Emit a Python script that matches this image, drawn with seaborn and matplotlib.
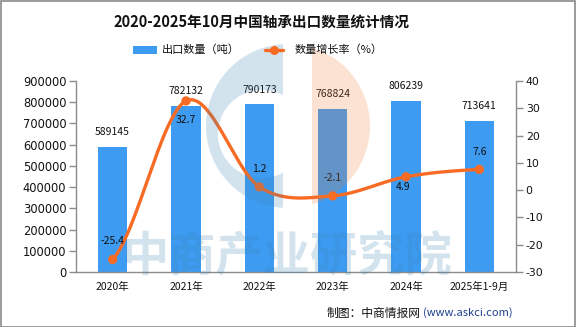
import numpy as np
import pandas as pd
import matplotlib
matplotlib.use("Agg")
import matplotlib.pyplot as plt
import seaborn as sns
from matplotlib.patches import Rectangle, PathPatch, Circle
from matplotlib.path import Path

# ---- data ----
years = ["2020年", "2021年", "2022年", "2023年", "2024年", "2025年1-9月"]
export_qty = [589145, 782132, 790173, 768824, 806239, 713641]
growth = [-25.4, 32.7, 1.2, -2.1, 4.9, 7.6]
left_ticks = [0, 100000, 200000, 300000, 400000, 500000, 600000, 700000, 800000, 900000]
right_ticks = [-30, -20, -10, 0, 10, 20, 30, 40]

sns.set_theme(style="white")
plt.rcParams['font.family'] = ['Noto Sans CJK SC', 'DejaVu Sans']
plt.rcParams['axes.unicode_minus'] = False

BAR = "#3d9cf2"
LINE = "#f86b25"
GREY = "#8c8c8c"
NUMFONT = ['DejaVu Sans', 'Noto Sans CJK SC']

W, H = 576, 327
fig = plt.figure(figsize=(W / 100, H / 100), dpi=100)
ax = fig.add_axes([76 / W, 1 - 272 / H, 440 / W, 191 / H])

df = pd.DataFrame({"year": years, "qty": export_qty, "growth": growth})
sns.barplot(data=df, x="year", y="qty", color=BAR, width=0.4, ax=ax,
            saturation=1, edgecolor="none")
ax.set_xlim(-0.5, 5.5)
ax.set_ylim(0, 900000)
ax.set_yticks(left_ticks)
ax.set_yticklabels([str(t) for t in left_ticks], fontsize=8.3, color="#111111", family=NUMFONT)
ax.set_xlabel("")
ax.set_ylabel("")
ax.set_xticks(range(len(years)))
ax.set_xticklabels(years, fontsize=7.5, color="#111111")
ax.set_xticks(np.arange(-0.5, 6.0, 1.0), minor=True)
ax.tick_params(axis="x", which="major", length=0, pad=7)
ax.tick_params(axis="x", which="minor", length=5, color=GREY, width=1)
ax.tick_params(axis="y", length=5, color=GREY, width=1, pad=2, left=True)
for s in ["top", "right"]:
    ax.spines[s].set_visible(False)
for s in ["left", "bottom"]:
    ax.spines[s].set_color(GREY)
    ax.spines[s].set_linewidth(1)

for i, v in enumerate(export_qty):
    ax.annotate(str(v), (i, v), xytext=(0, 7), textcoords="offset points",
                ha="center", va="bottom", fontsize=7.5, color="#111111")

ax2 = ax.twinx()
ax2.set_ylim(-30, 40)
ax2.set_yticks(right_ticks)
ax2.set_yticklabels([str(t) for t in right_ticks], fontsize=7.8, color="#111111", family=NUMFONT)
ax2.tick_params(axis="y", length=5, color=GREY, width=1, pad=2, right=True)
for s in ["top", "left", "bottom"]:
    ax2.spines[s].set_visible(False)
ax2.spines["right"].set_color(GREY)
ax2.spines["right"].set_linewidth(1)

# smooth (Catmull-Rom) rendering of the growth line
xs = np.arange(len(growth), dtype=float)
ys = np.array(growth, dtype=float)
px = np.concatenate([[xs[0] - (xs[1] - xs[0])], xs, [xs[-1] + (xs[-1] - xs[-2])]])
py = np.concatenate([[ys[0]], ys, [ys[-1]]])
cx, cy = [], []
tension = 0.5
for k in range(1, len(px) - 2):
    p0, p1, p2, p3 = py[k - 1], py[k], py[k + 1], py[k + 2]
    q0, q1, q2, q3 = px[k - 1], px[k], px[k + 1], px[k + 2]
    t = np.linspace(0, 1, 30)
    m1y = tension * (p2 - p0); m2y = tension * (p3 - p1)
    m1x = tension * (q2 - q0); m2x = tension * (q3 - q1)
    h00 = 2 * t**3 - 3 * t**2 + 1; h10 = t**3 - 2 * t**2 + t
    h01 = -2 * t**3 + 3 * t**2; h11 = t**3 - t**2
    cx.extend(h00 * q1 + h10 * m1x + h01 * q2 + h11 * m2x)
    cy.extend(h00 * p1 + h10 * m1y + h01 * p2 + h11 * m2y)
ax2.plot(cx, cy, color=LINE, lw=2.4, solid_capstyle="round", zorder=3)
sns.scatterplot(x=xs, y=ys, ax=ax2, color=LINE, s=45, edgecolor="none", zorder=4, legend=False)

label_off = [(0, 10), (0, -10), (0, 9), (0, 9), (-2, -4), (0, 9)]
for i, v in enumerate(growth):
    dx, dy = label_off[i]
    ax2.annotate(f"{v}", (i, v), xytext=(dx, dy), textcoords="offset points",
                 ha="center", va="bottom" if dy > 0 else "top", fontsize=7.5, color="#111111")

# ---- title / legend ----
fig.text(261 / W, 1 - 22 / H, "2020-2025年10月中国轴承出口数量统计情况", ha="center", va="center",
         fontsize=10.5, fontweight="bold", color="#111111")
fig.patches.append(Rectangle((133 / W, 1 - 54 / H), 24 / W, 8 / H, transform=fig.transFigure,
                             facecolor=BAR, edgecolor="none"))
fig.text(162 / W, 1 - 50 / H, "出口数量（吨）", ha="left", va="center", fontsize=8, color="#111111")
fig.lines.append(plt.Line2D([265 / W, 283 / W], [1 - 50 / H, 1 - 50 / H], transform=fig.transFigure,
                            color=LINE, lw=2.4))
fig.lines.append(plt.Line2D([274 / W], [1 - 50 / H], transform=fig.transFigure, marker="o",
                            color=LINE, markersize=6.5, markeredgewidth=0))
fig.text(295 / W, 1 - 50 / H, "数量增长率（%）", ha="left", va="center", fontsize=8, color="#111111")

# source
fig.text(327 / W, 1 - 313 / H, "制图：中商情报网", ha="left", va="center", fontsize=8.5, color="#111111")
fig.text(423 / W, 1 - 313 / H, "(www.askci.com)", ha="left", va="center", fontsize=8, color="#1d3f8f")

# ---- watermark ----
WM_BLUE = (57 / 255, 129 / 255, 178 / 255)
WM_ORANGE = (237 / 255, 124 / 255, 53 / 255)
WA = 0.22
wm = fig.add_axes([0, 0, 1, 1], facecolor="none")
wm.set_xlim(0, W); wm.set_ylim(H, 0); wm.axis("off")
th = np.linspace(0, 2 * np.pi, 200)
outer = np.column_stack([288 + 82 * np.cos(th), 126 + 82 * np.sin(th)])
hole = np.column_stack([262 + 44 * np.cos(-th), 134 + 44 * np.sin(-th)])
verts = np.vstack([outer, hole])
codes = np.full(len(verts), Path.LINETO)
codes[0] = Path.MOVETO; codes[len(outer)] = Path.MOVETO
blue_patch = PathPatch(Path(verts, codes), facecolor=WM_BLUE, alpha=WA, edgecolor="none")
wm.add_patch(blue_patch)
blue_patch.set_clip_path(Rectangle((150, 30), 283 - 150, 200, transform=wm.transData))
orange_patch = Circle((288, 126), 82, facecolor=WM_ORANGE, alpha=WA, edgecolor="none")
wm.add_patch(orange_patch)
orange_patch.set_clip_path(Rectangle((312, 30), 100, 200, transform=wm.transData))
wm.text(287, 256, "中商产业研究院", ha="center", va="center", fontsize=34, fontweight="bold",
        color=WM_BLUE, alpha=WA)

# border
fig.patches.append(Rectangle((0.5 / W, 0.5 / H), 1 - 1.5 / W, 1 - 1.5 / H, transform=fig.transFigure,
                             facecolor="none", edgecolor="#8a8a8a", lw=1.2))

fig.savefig("out.png", dpi=100)
